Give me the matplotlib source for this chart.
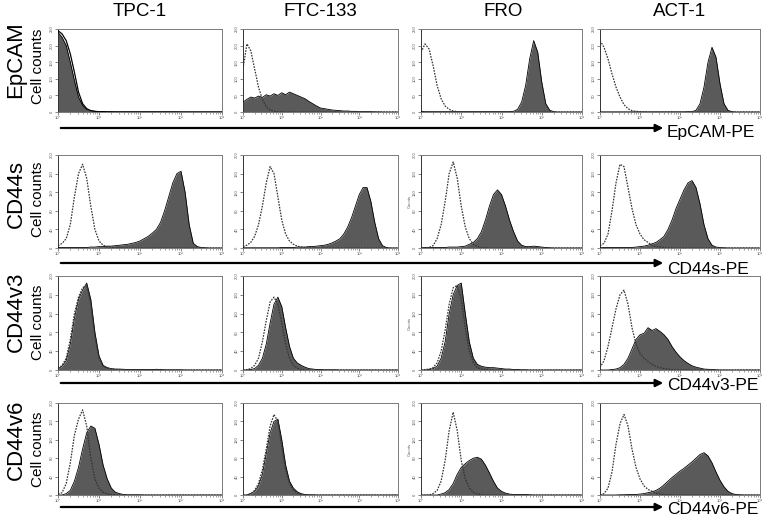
import matplotlib
matplotlib.use("Agg")
import matplotlib.pyplot as plt
import numpy as np

plt.rcParams['font.family'] = ['Liberation Sans', 'DejaVu Sans']

# channel positions (log10 of fluorescence), 0 .. 4 decades
log_channel = [0.0, 0.1, 0.2, 0.3, 0.4, 0.5, 0.6, 0.7, 0.8, 0.9,
               1.0, 1.1, 1.2, 1.3, 1.4, 1.5, 1.6, 1.7, 1.8, 1.9,
               2.0, 2.1, 2.2, 2.3, 2.4, 2.5, 2.6, 2.7, 2.8, 2.9,
               3.0, 3.1, 3.2, 3.3, 3.4, 3.5, 3.6, 3.7, 3.8, 3.9,
               4.0]

cell_lines = ['TPC-1', 'FTC-133', 'FRO', 'ACT-1']
markers = ['EpCAM', 'CD44s', 'CD44v3', 'CD44v6']
axis_labels = ['EpCAM-PE', 'CD44s-PE', 'CD44v3-PE', 'CD44v6-PE']
y_max = [250, 200, 200, 200]
y_step = [50, 40, 40, 40]

# ---- EpCAM ----
epcam_tpc1 = [240, 225, 200, 150, 95, 45, 20, 8, 4, 2,
              1, 1, 0.5, 0.5, 0.5, 0.5, 0.5, 0.5, 0.5, 0.5,
              0.5, 0.5, 0.5, 0.5, 0.5, 0.5, 0.5, 0.5, 0.5, 0.5,
              0, 0, 0, 0, 0, 0, 0, 0, 0, 0, 0]
epcam_tpc1_iso = [245, 235, 215, 175, 120, 60, 25, 10, 4, 2,
                  1, 1, 0.5, 0.5, 0, 0, 0, 0, 0, 0,
                  0, 0, 0, 0, 0, 0, 0, 0, 0, 0,
                  0, 0, 0, 0, 0, 0, 0, 0, 0, 0, 0]
epcam_ftc133 = [30, 38, 45, 42, 48, 44, 52, 48, 55, 50,
                58, 52, 60, 55, 50, 45, 40, 32, 25, 18,
                12, 10, 8, 6, 5, 4, 3, 3, 2, 2,
                1, 1, 1, 1, 0.5, 0.5, 0, 0, 0, 0, 0]
epcam_ftc133_iso = [130, 205, 185, 130, 75, 38, 16, 6, 2, 1,
                    0.5, 0, 0, 0, 0, 0, 0, 0, 0, 0,
                    0, 0, 0, 0, 0, 0, 0, 0, 0, 0,
                    0, 0, 0, 0, 0, 0, 0, 0, 0, 0, 0]
epcam_fro = [2, 1, 1, 1, 1, 1, 1, 1, 1, 1,
             1, 1, 1, 1, 1, 1, 1, 1, 1, 1,
             1, 1, 1, 2, 8, 30, 80, 160, 215, 180,
             90, 25, 5, 1, 0, 0, 0, 0, 0, 0, 0]
epcam_fro_iso = [180, 205, 190, 140, 80, 40, 18, 8, 3, 1,
                 1, 0.5, 0, 0, 0, 0, 0, 0, 0, 0,
                 0, 0, 0, 0, 0, 0, 0, 0, 0, 0,
                 0, 0, 0, 0, 0, 0, 0, 0, 0, 0, 0]
epcam_act1 = [0.5, 0.5, 0.5, 0.5, 0.5, 0.5, 0.5, 0.5, 0.5, 0.5,
              0.5, 0.5, 0.5, 0.5, 0.5, 0.5, 0.5, 0.5, 0.5, 0.5,
              0.5, 0.5, 1, 1, 5, 25, 75, 150, 195, 165,
              85, 25, 5, 1, 0, 0, 0, 0, 0, 0, 0]
epcam_act1_iso = [215, 195, 160, 115, 75, 45, 22, 10, 4, 2,
                  1, 0.5, 0, 0, 0, 0, 0, 0, 0, 0,
                  0, 0, 0, 0, 0, 0, 0, 0, 0, 0,
                  0, 0, 0, 0, 0, 0, 0, 0, 0, 0, 0]

# ---- CD44s ----
cd44s_tpc1 = [1, 1, 1, 1, 1, 1, 1, 1, 2, 2,
              3, 3, 4, 4, 5, 6, 7, 8, 10, 12,
              15, 20, 25, 32, 40, 55, 80, 110, 140, 160,
              165, 120, 50, 10, 3, 1, 0.5, 0, 0, 0, 0]
cd44s_tpc1_iso = [5, 10, 20, 50, 110, 160, 180, 150, 90, 40,
                  15, 6, 3, 2, 1, 1, 0.5, 0, 0, 0,
                  0, 0, 0, 0, 0, 0, 0, 0, 0, 0,
                  0, 0, 0, 0, 0, 0, 0, 0, 0, 0, 0]
cd44s_ftc133 = [0.5, 0.5, 0.5, 0.5, 0.5, 0.5, 0.5, 0.5, 0.5, 0.5,
                1, 1, 1, 1, 2, 2, 2, 3, 3, 4,
                5, 6, 8, 11, 15, 20, 30, 45, 65, 90,
                115, 130, 130, 100, 55, 20, 5, 1, 0, 0, 0]
cd44s_ftc133_iso = [3, 6, 12, 25, 50, 90, 140, 175, 160, 110,
                    60, 30, 15, 8, 4, 2, 1, 0.5, 0, 0,
                    0, 0, 0, 0, 0, 0, 0, 0, 0, 0,
                    0, 0, 0, 0, 0, 0, 0, 0, 0, 0, 0]
cd44s_fro = [0.5, 1, 1, 1, 1, 1, 1, 2, 2, 2,
             3, 4, 8, 12, 20, 35, 60, 90, 115, 125,
             115, 90, 60, 35, 15, 6, 3, 3, 4, 3,
             2, 1, 0.5, 0, 0, 0, 0, 0, 0, 0, 0]
cd44s_fro_iso = [0, 0, 1, 5, 20, 50, 100, 160, 185, 150,
                 90, 45, 20, 8, 3, 1, 0.5, 0, 0, 0,
                 0, 0, 0, 0, 0, 0, 0, 0, 0, 0,
                 0, 0, 0, 0, 0, 0, 0, 0, 0, 0, 0]
cd44s_act1 = [0.5, 1, 1, 1, 1, 1, 1, 1, 1, 2,
              3, 4, 6, 9, 12, 18, 25, 40, 60, 85,
              105, 125, 140, 145, 130, 95, 50, 20, 6, 2,
              1, 0.5, 0, 0, 0, 0, 0, 0, 0, 0, 0]
cd44s_act1_iso = [5, 10, 30, 80, 140, 180, 175, 130, 85, 50,
                  30, 18, 12, 6, 3, 2, 1, 0.5, 0, 0,
                  0, 0, 0, 0, 0, 0, 0, 0, 0, 0,
                  0, 0, 0, 0, 0, 0, 0, 0, 0, 0, 0]

# ---- CD44v3 ----
cd44v3_tpc1 = [3, 8, 20, 55, 110, 150, 170, 185, 150, 80,
               30, 10, 5, 3, 2, 2, 1.5, 1, 1, 1,
               1, 1, 1, 1, 1.5, 1, 0.5, 0.5, 0.5, 0.5,
               0.5, 0, 0, 0, 0, 0, 0, 0, 0, 0, 0]
cd44v3_tpc1_iso = [3, 10, 25, 65, 120, 155, 175, 180, 140, 70,
                   25, 8, 4, 2, 1, 0.5, 0, 0, 0, 0,
                   0, 0, 0, 0, 0, 0, 0, 0, 0, 0,
                   0, 0, 0, 0, 0, 0, 0, 0, 0, 0, 0]
cd44v3_ftc133 = [0, 0, 1, 3, 10, 25, 55, 100, 140, 155,
                 135, 90, 50, 25, 15, 10, 6, 3, 2, 1,
                 1, 0.5, 0.5, 0.5, 0.5, 0, 0, 0, 0, 0,
                 0, 0, 0, 0, 0, 0, 0, 0, 0, 0, 0]
cd44v3_ftc133_iso = [0, 1, 3, 10, 25, 60, 105, 145, 155, 140,
                     100, 55, 25, 10, 4, 1, 0.5, 0, 0, 0,
                     0, 0, 0, 0, 0, 0, 0, 0, 0, 0,
                     0, 0, 0, 0, 0, 0, 0, 0, 0, 0, 0]
cd44v3_fro = [0, 0, 1, 3, 8, 25, 60, 120, 160, 180,
              185, 120, 60, 25, 12, 8, 6, 5, 5, 4,
              3, 2, 2, 1, 1, 0.5, 0.5, 0, 0, 0,
              0, 0, 0, 0, 0, 0, 0, 0, 0, 0, 0]
cd44v3_fro_iso = [0, 1, 2, 5, 15, 40, 85, 140, 175, 180,
                  150, 90, 40, 15, 5, 2, 1, 0, 0, 0,
                  0, 0, 0, 0, 0, 0, 0, 0, 0, 0,
                  0, 0, 0, 0, 0, 0, 0, 0, 0, 0, 0]
cd44v3_act1 = [0, 0, 0, 1, 2, 5, 12, 25, 45, 65,
               75, 78, 90, 84, 88, 82, 75, 65, 50, 38,
               28, 20, 14, 9, 6, 4, 2, 1.5, 1, 0.5,
               0, 0, 0, 0, 0, 0, 0, 0, 0, 0, 0]
cd44v3_act1_iso = [5, 20, 50, 90, 130, 160, 170, 140, 90, 55,
                   35, 25, 18, 12, 8, 5, 3, 2, 1, 0.5,
                   0, 0, 0, 0, 0, 0, 0, 0, 0, 0,
                   0, 0, 0, 0, 0, 0, 0, 0, 0, 0, 0]

# ---- CD44v6 ----
cd44v6_tpc1 = [0, 0, 3, 10, 30, 60, 100, 135, 150, 145,
               110, 65, 35, 15, 6, 3, 1, 0.5, 0.5, 0.5,
               0.5, 0, 0, 0, 0, 0, 0, 0, 0, 0,
               0, 0, 0, 0, 0, 0, 0, 0, 0, 0, 0]
cd44v6_tpc1_iso = [2, 5, 25, 70, 130, 165, 185, 150, 80, 35,
                   15, 6, 2, 1, 0.5, 0, 0, 0, 0, 0,
                   0, 0, 0, 0, 0, 0, 0, 0, 0, 0,
                   0, 0, 0, 0, 0, 0, 0, 0, 0, 0, 0]
cd44v6_ftc133 = [0, 0, 3, 8, 20, 45, 90, 135, 160, 165,
                 120, 65, 30, 15, 7, 3, 1, 0.5, 0.5, 0,
                 0, 0, 0, 0, 0, 0, 0, 0, 0, 0,
                 0, 0, 0, 0, 0, 0, 0, 0, 0, 0, 0]
cd44v6_ftc133_iso = [0, 0, 3, 10, 25, 55, 100, 150, 175, 160,
                     105, 55, 25, 10, 4, 1, 0, 0, 0, 0,
                     0, 0, 0, 0, 0, 0, 0, 0, 0, 0,
                     0, 0, 0, 0, 0, 0, 0, 0, 0, 0, 0]
cd44v6_fro = [0, 0, 0, 0, 0, 2, 5, 12, 25, 45,
              60, 68, 75, 80, 82, 78, 65, 48, 30, 15,
              8, 4, 2, 1, 1, 1, 1, 0.5, 0, 0,
              0, 0, 0, 0, 0, 0, 0, 0, 0, 0, 0]
cd44v6_fro_iso = [0, 0, 0, 3, 10, 30, 75, 140, 180, 140,
                  75, 35, 15, 6, 2, 1, 0, 0, 0, 0,
                  0, 0, 0, 0, 0, 0, 0, 0, 0, 0,
                  0, 0, 0, 0, 0, 0, 0, 0, 0, 0, 0]
cd44v6_act1 = [0, 0, 0, 0, 0, 0.5, 0.5, 1, 1, 1,
               2, 3, 5, 7, 10, 15, 22, 30, 38, 45,
               52, 58, 65, 72, 80, 88, 92, 85, 70, 50,
               32, 18, 8, 3, 1, 0.5, 0, 0, 0, 0, 0]
cd44v6_act1_iso = [0, 3, 15, 50, 110, 155, 175, 150, 100, 60,
                   35, 20, 12, 8, 4, 2, 1, 0.5, 0, 0,
                   0, 0, 0, 0, 0, 0, 0, 0, 0, 0,
                   0, 0, 0, 0, 0, 0, 0, 0, 0, 0, 0]

panels = [
    [(epcam_tpc1, epcam_tpc1_iso), (epcam_ftc133, epcam_ftc133_iso),
     (epcam_fro, epcam_fro_iso), (epcam_act1, epcam_act1_iso)],
    [(cd44s_tpc1, cd44s_tpc1_iso), (cd44s_ftc133, cd44s_ftc133_iso),
     (cd44s_fro, cd44s_fro_iso), (cd44s_act1, cd44s_act1_iso)],
    [(cd44v3_tpc1, cd44v3_tpc1_iso), (cd44v3_ftc133, cd44v3_ftc133_iso),
     (cd44v3_fro, cd44v3_fro_iso), (cd44v3_act1, cd44v3_act1_iso)],
    [(cd44v6_tpc1, cd44v6_tpc1_iso), (cd44v6_ftc133, cd44v6_ftc133_iso),
     (cd44v6_fro, cd44v6_fro_iso), (cd44v6_act1, cd44v6_act1_iso)],
]

W, H = 771, 519
fig = plt.figure(figsize=(W / 100, H / 100), dpi=100)

col_px = [(58, 222), (243, 398), (421, 582), (600, 760)]
row_px = [(29, 112), (155, 248), (276, 370), (403, 495)]
arrow_y = [128, 263, 383, 507]
label_y = [133, 269, 386, 510]
title_x = [140, 320, 503, 680]
marker_y = [60, 194, 312, 440]
counts_y = [66, 199, 322, 449]

x_vals = 10 ** np.array(log_channel)

for r in range(4):
    top, bot = row_px[r]
    for c in range(4):
        left, right = col_px[c]
        ax = fig.add_axes([left / W, 1 - bot / H, (right - left) / W, (bot - top) / H])
        filled, iso = panels[r][c]
        ax.fill_between(x_vals, filled, color='#5a5a5a', lw=0, zorder=2)
        ax.plot(x_vals, filled, color='black', lw=0.6, zorder=3)
        if r == 0 and c == 0:
            ax.plot(x_vals, iso, color='black', lw=0.9, zorder=4)
        else:
            ax.plot(x_vals, iso, color='#333333', lw=0.9, ls=(0, (1.3, 1.0)), zorder=4)
        ax.set_xscale('log')
        ax.set_xlim(1, 1e4)
        ax.set_ylim(0, y_max[r])
        ax.set_xticks([1, 10, 100, 1000, 10000])
        ax.set_xticklabels(['10⁰', '10¹', '10²', '10³', '10⁴'])
        ticks = list(range(0, y_max[r] + 1, y_step[r]))
        ax.set_yticks(ticks)
        ax.set_yticklabels([str(t) for t in ticks], rotation=90, va='center')
        ax.tick_params(axis='both', labelsize=3, colors='#555555', length=2,
                       width=0.5, pad=1)
        ax.tick_params(axis='x', which='minor', length=1.2, width=0.4, colors='#555555')
        for s in ax.spines.values():
            s.set_color('#7a7a7a')
            s.set_linewidth(0.7)
        ax.spines['left'].set_color('#333333')
        if c == 2 and r > 0:
            ax.set_ylabel('Counts', fontsize=3, color='#555555', labelpad=1)

    # axis arrow under the row
    fig.add_artist(matplotlib.patches.FancyArrowPatch(
        (58 / W, 1 - arrow_y[r] / H), (666 / W, 1 - arrow_y[r] / H),
        transform=fig.transFigure, arrowstyle='-|>', mutation_scale=11,
        lw=1.6, color='black'))
    fig.text(667 / W, 1 - label_y[r] / H, axis_labels[r], fontsize=12.5,
             ha='left', va='center')
    fig.text(16 / W, 1 - marker_y[r] / H, markers[r], fontsize=16,
             rotation=90, ha='center', va='center')
    fig.text(38 / W, 1 - counts_y[r] / H, 'Cell counts', fontsize=11,
             rotation=90, ha='center', va='center')

for c in range(4):
    fig.text(title_x[c] / W, 1 - 12 / H, cell_lines[c], fontsize=13.5,
             ha='center', va='center')

fig.savefig('out.png', dpi=100)
